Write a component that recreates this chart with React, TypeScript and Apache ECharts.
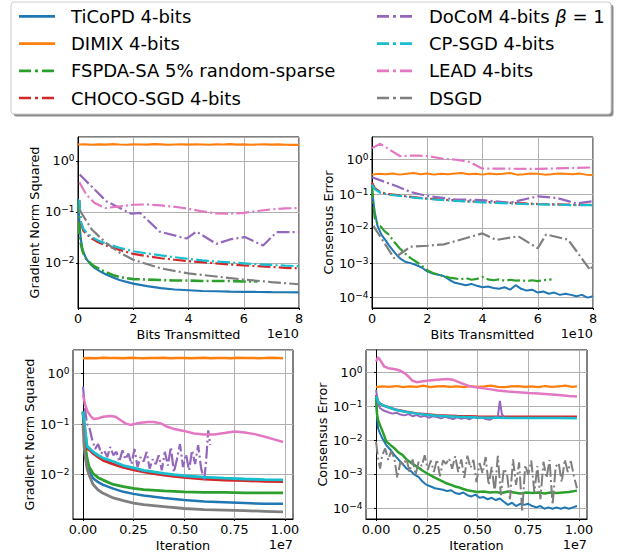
import React, { useEffect, useRef } from 'react';
import * as echarts from 'echarts';

// ---------------- data ----------------
const methodNames = ['TiCoPD 4-bits', 'DIMIX 4-bits', 'FSPDA-SA 5% random-sparse', 'CHOCO-SGD 4-bits', 'DoCoM 4-bits β = 1', 'CP-SGD 4-bits', 'LEAD 4-bits', 'DSGD'];
const methodColors = ['#1f77b4', '#ff7f0e', '#2ca02c', '#d62728', '#9467bd', '#17becf', '#e377c2', '#7f7f7f'];
const methodDashed = [false, false, true, true, true, true, true, true];

const bitsTicks = [0, 2, 4, 6, 8];
const iterTicks = [0, 0.25, 0.5, 0.75, 1];

// Top-left: gradient norm squared vs bits (x in 1e10)
const bitsGrid = [0, 0.25, 0.5, 0.75, 1, 1.25, 1.5, 1.75, 2, 2.25, 2.5, 2.75, 3, 3.25, 3.5, 3.75, 4, 4.25, 4.5, 4.75, 5, 5.25, 5.5, 5.75, 6, 6.25, 6.5, 6.75, 7, 7.25, 7.5, 7.75, 8];
const tlDimixY = [2.1, 2.12, 2.08, 2.11, 2.09, 2.13, 2.1, 2.08, 2.12, 2.1, 2.09, 2.13, 2.11, 2.08, 2.1, 2.12, 2.09, 2.11, 2.1, 2.08, 2.12, 2.1, 2.13, 2.09, 2.11, 2.08, 2.1, 2.12, 2.09, 2.11, 2.08, 2.07, 2.06];
const tlBlueX = [0, 0.05, 0.1, 0.15, 0.2, 0.3, 0.4, 0.5, 0.6, 0.8, 1, 1.25, 1.5, 2, 2.5, 3, 3.5, 4, 4.5, 5, 5.5, 6, 6.5, 7, 7.5, 8];
const tlBlueY = [0.18, 0.06, 0.03, 0.02, 0.016, 0.012, 0.0102, 0.0089, 0.008, 0.0068, 0.006, 0.0052, 0.0046, 0.0039, 0.0035, 0.0032, 0.003, 0.0029, 0.0028, 0.00277, 0.00272, 0.0027, 0.00268, 0.00266, 0.00265, 0.00264];
const tlGreenX = [0.02, 0.05, 0.1, 0.15, 0.2, 0.3, 0.4, 0.5, 0.6, 0.8, 1, 1.25, 1.5, 1.75, 2, 2.5, 3, 3.5, 4, 4.5, 5, 5.5, 6, 6.5];
const tlGreenY = [0.17, 0.035, 0.024, 0.018, 0.015, 0.012, 0.0105, 0.0093, 0.0085, 0.0074, 0.0066, 0.0058, 0.0053, 0.005, 0.0048, 0.0047, 0.0046, 0.0045, 0.0045, 0.0044, 0.0044, 0.0044, 0.0043, 0.0043];
const tlRedX = [0.05, 0.1, 0.2, 0.3, 0.5, 0.75, 1, 1.5, 2, 2.5, 3, 3.5, 4, 4.5, 5, 5.5, 6, 6.5, 7, 7.5, 8];
const tlRedY = [0.17, 0.06, 0.042, 0.037, 0.03, 0.025, 0.022, 0.018, 0.015, 0.0135, 0.0123, 0.0115, 0.0108, 0.0103, 0.0098, 0.0093, 0.0089, 0.0086, 0.0083, 0.008, 0.0078];
const tlCyanY = [0.17, 0.065, 0.046, 0.04, 0.032, 0.027, 0.024, 0.0198, 0.0169, 0.0153, 0.014, 0.0129, 0.012, 0.0112, 0.0106, 0.0102, 0.0098, 0.0094, 0.0091, 0.0088, 0.0086];
const tlPurpleX = [0.06, 1.03, 1.33, 1.93, 2.24, 2.96, 3.93, 4.29, 5.01, 5.5, 6.04, 6.7, 7.19, 8];
const tlPurpleY = [0.54, 0.161, 0.134, 0.092, 0.096, 0.041, 0.03, 0.041, 0.0236, 0.0288, 0.032, 0.0219, 0.04, 0.04];
const tlPinkX = [0.05, 0.3, 0.6, 1, 1.5, 2, 2.5, 3, 3.5, 4, 4.5, 5, 5.5, 6, 6.5, 7, 7.5, 8];
const tlPinkY = [0.38, 0.22, 0.15, 0.119, 0.128, 0.138, 0.14, 0.134, 0.126, 0.115, 0.102, 0.093, 0.092, 0.096, 0.104, 0.112, 0.117, 0.119];
const tlGrayX = [0.05, 0.5, 1, 1.5, 2, 3, 4, 5, 6, 7, 8];
const tlGrayY = [0.11, 0.045, 0.025, 0.016, 0.0115, 0.0078, 0.0062, 0.0054, 0.0047, 0.0042, 0.0038];

// Top-right: consensus error vs bits (x in 1e10)
const trDimixY = [0.37, 0.39, 0.38, 0.4, 0.37, 0.39, 0.41, 0.38, 0.4, 0.37, 0.39, 0.38, 0.4, 0.41, 0.38, 0.39, 0.37, 0.4, 0.38, 0.39, 0.41, 0.37, 0.38, 0.4, 0.39, 0.37, 0.38, 0.4, 0.39, 0.38, 0.4, 0.37, 0.36];
const trBlueX = [0, 0.05, 0.1, 0.2, 0.35, 0.5, 0.6, 0.75, 0.9, 1.05, 1.2, 1.4, 1.6, 1.8, 2, 2.2, 2.4, 2.6, 2.8, 3, 3.2, 3.4, 3.6, 3.8, 4, 4.2, 4.4, 4.6, 4.8, 5, 5.2, 5.4, 5.6, 5.8, 6, 6.2, 6.4, 6.6, 6.8, 7, 7.2, 7.4, 7.6, 7.8, 8];
const trBlueY = [0.15, 0.06, 0.03, 0.012, 0.0065, 0.0045, 0.0034, 0.0024, 0.0017, 0.0013, 0.0011, 0.001, 0.00088, 0.00075, 0.00058, 0.0005, 0.00046, 0.00042, 0.00033, 0.00027, 0.00025, 0.00023, 0.00025, 0.00022, 0.0002, 0.00021, 0.00019, 0.00018, 0.0002, 0.00017, 0.00023, 0.00018, 0.00016, 0.00017, 0.00014, 0.00015, 0.00013, 0.00014, 0.00012, 0.00013, 0.00012, 0.00011, 0.00012, 0.0001, 0.00011];
const trGreenX = [0, 0.05, 0.1, 0.2, 0.3, 0.45, 0.6, 0.8, 1, 1.2, 1.4, 1.6, 1.8, 2, 2.2, 2.4, 2.6, 2.8, 3, 3.2, 3.4, 3.6, 3.8, 4, 4.2, 4.4, 4.6, 4.8, 5, 5.2, 5.4, 5.6, 5.8, 6, 6.2, 6.5];
const trGreenY = [0.18, 0.05, 0.02, 0.014, 0.012, 0.0085, 0.0068, 0.0042, 0.0027, 0.0019, 0.0014, 0.0011, 0.00085, 0.00062, 0.00052, 0.00047, 0.00042, 0.00038, 0.00036, 0.00034, 0.00037, 0.00033, 0.00035, 0.0004, 0.00034, 0.00032, 0.00034, 0.00031, 0.00033, 0.00031, 0.00032, 0.0003, 0.00032, 0.0003, 0.00032, 0.00034];
const trRedX = [0, 0.1, 0.3, 0.6, 1, 1.5, 2, 2.5, 3, 3.5, 4, 4.5, 5, 5.5, 6, 6.5, 7, 7.5, 8];
const trRedY = [0.22, 0.15, 0.115, 0.1, 0.092, 0.082, 0.075, 0.07, 0.066, 0.062, 0.06, 0.058, 0.056, 0.054, 0.052, 0.051, 0.05, 0.049, 0.049];
const trCyanY = [0.19, 0.14, 0.11, 0.097, 0.09, 0.08, 0.073, 0.068, 0.064, 0.061, 0.058, 0.056, 0.054, 0.052, 0.051, 0.05, 0.049, 0.048, 0.048];
const trPurpleX = [0, 0.9, 1.4, 2, 3, 4, 5, 6, 6.7, 7.4, 8];
const trPurpleY = [0.31, 0.17, 0.116, 0.089, 0.071, 0.067, 0.057, 0.087, 0.078, 0.054, 0.063];
const trPinkX = [0, 0.3, 1.01, 1.62, 2, 2.58, 3.06, 3.54, 4, 5, 6, 7, 8];
const trPinkY = [2.17, 2.9, 1.28, 1.33, 1.28, 1.07, 1.0, 0.86, 0.55, 0.55, 0.54, 0.57, 0.6];
const trGrayX = [0.05, 0.8, 1.4, 2, 2.6, 4, 4.5, 5.3, 6, 6.3, 7.1, 7.9, 8];
const trGrayY = [0.012, 0.0014, 0.003, 0.0032, 0.0035, 0.0073, 0.0047, 0.006, 0.0027, 0.0068, 0.0048, 0.00063, 0.00088];

// Bottom-left: gradient norm squared vs iteration (x in 1e7)
const iterGrid = [0, 0.033, 0.066, 0.1, 0.133, 0.166, 0.2, 0.233, 0.266, 0.3, 0.333, 0.366, 0.4, 0.433, 0.466, 0.5, 0.533, 0.566, 0.6, 0.633, 0.666, 0.7, 0.733, 0.766, 0.8, 0.833, 0.866, 0.9, 0.933, 0.966, 0.99];
const blDimixY = [2.02, 2.05, 2.03, 2.06, 2.04, 2.05, 2.02, 2.06, 2.04, 2.03, 2.05, 2.04, 2.06, 2.03, 2.05, 2.04, 2.02, 2.05, 2.06, 2.03, 2.04, 2.05, 2.03, 2.06, 2.04, 2.05, 2.03, 2.04, 2.06, 2.04, 2.02];
const blGreenX = [0, 0.01, 0.02, 0.03, 0.05, 0.075, 0.1, 0.15, 0.2, 0.25, 0.3, 0.4, 0.5, 0.6, 0.7, 0.8, 0.9, 0.99];
const blBlueY = [0.176, 0.028, 0.0154, 0.0113, 0.0084, 0.007, 0.0062, 0.0052, 0.0045, 0.0041, 0.0038, 0.0034, 0.0031, 0.0029, 0.0028, 0.0027, 0.0026, 0.0026];
const blGreenY = [0.176, 0.04, 0.021, 0.0142, 0.0104, 0.0086, 0.0077, 0.0063, 0.0057, 0.0053, 0.005, 0.0047, 0.0045, 0.0044, 0.0044, 0.0043, 0.0043, 0.0043];
const blCyanX = [0, 0.01, 0.02, 0.035, 0.05, 0.075, 0.1, 0.15, 0.2, 0.25, 0.3, 0.35, 0.4, 0.45, 0.5, 0.6, 0.7, 0.8, 0.9, 0.99];
const blRedY = [0.17, 0.07, 0.033, 0.03, 0.026, 0.022, 0.019, 0.016, 0.0138, 0.0123, 0.0112, 0.0104, 0.0097, 0.0091, 0.0087, 0.0081, 0.0077, 0.0075, 0.0073, 0.0072];
const blCyanY = [0.176, 0.082, 0.036, 0.032, 0.028, 0.024, 0.021, 0.018, 0.015, 0.0135, 0.012, 0.0112, 0.0105, 0.0099, 0.0094, 0.0088, 0.0084, 0.0081, 0.0079, 0.0078];
const blPurpleX = [0, 0.01, 0.02, 0.03, 0.045, 0.06, 0.075, 0.09, 0.105, 0.12, 0.135, 0.15, 0.165, 0.18, 0.195, 0.21, 0.225, 0.24, 0.255, 0.27, 0.285, 0.3, 0.315, 0.33, 0.345, 0.36, 0.375, 0.39, 0.405, 0.42, 0.435, 0.45, 0.465, 0.48, 0.495, 0.51, 0.525, 0.54, 0.555, 0.57, 0.585, 0.6, 0.61, 0.62, 0.63];
const blPurpleY = [0.55, 0.2, 0.1, 0.09, 0.05, 0.032, 0.04, 0.026, 0.03, 0.022, 0.035, 0.024, 0.028, 0.018, 0.03, 0.02, 0.026, 0.016, 0.032, 0.014, 0.022, 0.018, 0.028, 0.013, 0.02, 0.016, 0.024, 0.012, 0.028, 0.015, 0.035, 0.011, 0.02, 0.04, 0.014, 0.025, 0.012, 0.03, 0.016, 0.038, 0.013, 0.0075, 0.02, 0.075, 0.038];
const blPinkX = [0, 0.011, 0.023, 0.04, 0.053, 0.078, 0.1, 0.136, 0.16, 0.185, 0.21, 0.235, 0.25, 0.285, 0.32, 0.35, 0.385, 0.417, 0.45, 0.5, 0.55, 0.6, 0.65, 0.7, 0.75, 0.8, 0.85, 0.9, 0.95, 0.99];
const blPinkY = [0.38, 0.24, 0.176, 0.14, 0.126, 0.13, 0.14, 0.144, 0.14, 0.12, 0.103, 0.096, 0.099, 0.106, 0.11, 0.11, 0.103, 0.088, 0.08, 0.073, 0.065, 0.062, 0.062, 0.066, 0.071, 0.068, 0.063, 0.056, 0.049, 0.044];
const blGrayX = [0, 0.005, 0.01, 0.02, 0.03, 0.05, 0.075, 0.1, 0.15, 0.2, 0.25, 0.3, 0.4, 0.5, 0.6, 0.7, 0.8, 0.9, 0.99];
const blGrayY = [0.103, 0.038, 0.024, 0.0132, 0.0097, 0.0063, 0.0049, 0.0042, 0.0034, 0.003, 0.0027, 0.0025, 0.0023, 0.0021, 0.002, 0.00195, 0.0019, 0.00185, 0.0018];

// Bottom-right: consensus error vs iteration (x in 1e7)
const brDimixY = [0.37, 0.39, 0.38, 0.4, 0.37, 0.39, 0.38, 0.41, 0.37, 0.39, 0.4, 0.38, 0.39, 0.37, 0.4, 0.38, 0.39, 0.41, 0.38, 0.37, 0.39, 0.4, 0.38, 0.39, 0.37, 0.4, 0.38, 0.39, 0.41, 0.38, 0.39];
const brBlueX = [0, 0.005, 0.01, 0.02, 0.03, 0.05, 0.07, 0.09, 0.11, 0.13, 0.15, 0.17, 0.19, 0.21, 0.23, 0.25, 0.27, 0.29, 0.31, 0.33, 0.35, 0.37, 0.39, 0.41, 0.43, 0.45, 0.47, 0.49, 0.51, 0.53, 0.55, 0.57, 0.59, 0.61, 0.63, 0.65, 0.67, 0.69, 0.71, 0.73, 0.75, 0.77, 0.79, 0.81, 0.83, 0.85, 0.87, 0.89, 0.91, 0.93, 0.95, 0.97, 0.99];
const brBlueY = [0.2, 0.05, 0.023, 0.016, 0.012, 0.0074, 0.0055, 0.0038, 0.0028, 0.0021, 0.0015, 0.0013, 0.001, 0.00085, 0.00062, 0.0005, 0.00045, 0.0004, 0.00038, 0.00036, 0.00033, 0.00035, 0.00029, 0.00027, 0.0003, 0.00025, 0.00023, 0.00026, 0.00021, 0.00022, 0.00019, 0.00021, 0.00018, 0.0002, 0.00016, 0.00013, 0.00015, 0.00012, 0.00014, 0.00013, 0.00014, 0.00012, 0.00011, 0.00012, 0.0001, 0.00011, 0.0001, 0.00011, 0.0001, 0.00011, 0.0001, 0.00011, 0.00012];
const brGreenX = [0, 0.005, 0.01, 0.02, 0.03, 0.04, 0.05, 0.07, 0.09, 0.11, 0.13, 0.15, 0.17, 0.19, 0.21, 0.23, 0.25, 0.27, 0.29, 0.31, 0.33, 0.35, 0.37, 0.39, 0.41, 0.43, 0.45, 0.47, 0.5, 0.53, 0.56, 0.59, 0.62, 0.65, 0.68, 0.71, 0.74, 0.77, 0.8, 0.83, 0.86, 0.89, 0.92, 0.95, 0.99];
const brGreenY = [0.18, 0.06, 0.04, 0.028, 0.02, 0.014, 0.0095, 0.0075, 0.006, 0.0045, 0.0038, 0.0028, 0.0023, 0.0019, 0.0016, 0.0013, 0.0011, 0.00095, 0.00082, 0.00072, 0.00063, 0.00055, 0.0005, 0.00045, 0.00042, 0.00038, 0.00035, 0.00033, 0.00031, 0.00032, 0.0003, 0.00031, 0.00029, 0.00032, 0.0003, 0.00028, 0.0003, 0.00029, 0.0003, 0.00028, 0.0003, 0.00029, 0.0003, 0.00031, 0.00034];
const brRedX = [0, 0.01, 0.02, 0.05, 0.1, 0.15, 0.2, 0.25, 0.3, 0.4, 0.5, 0.6, 0.7, 0.8, 0.9, 0.99];
const brRedY = [0.22, 0.14, 0.12, 0.1, 0.08, 0.07, 0.063, 0.059, 0.056, 0.053, 0.051, 0.05, 0.05, 0.05, 0.05, 0.05];
const brCyanY = [0.2, 0.14, 0.12, 0.1, 0.079, 0.069, 0.062, 0.057, 0.054, 0.05, 0.048, 0.047, 0.046, 0.046, 0.046, 0.045];
const brPurpleX = [0, 0.01, 0.02, 0.04, 0.06, 0.08, 0.1, 0.12, 0.14, 0.16, 0.18, 0.2, 0.22, 0.24, 0.26, 0.28, 0.3, 0.32, 0.34, 0.36, 0.38, 0.4, 0.42, 0.44, 0.46, 0.48, 0.5, 0.52, 0.54, 0.56, 0.58, 0.6, 0.61, 0.62, 0.63];
const brPurpleY = [0.31, 0.125, 0.089, 0.075, 0.068, 0.062, 0.066, 0.058, 0.055, 0.06, 0.052, 0.056, 0.05, 0.054, 0.047, 0.052, 0.049, 0.045, 0.05, 0.046, 0.043, 0.048, 0.044, 0.047, 0.042, 0.05, 0.045, 0.048, 0.043, 0.041, 0.047, 0.05, 0.146, 0.06, 0.05];
const brPinkX = [0, 0.01, 0.02, 0.04, 0.06, 0.08, 0.1, 0.12, 0.14, 0.16, 0.18, 0.2, 0.25, 0.3, 0.35, 0.38, 0.42, 0.46, 0.5, 0.55, 0.6, 0.65, 0.7, 0.75, 0.8, 0.85, 0.9, 0.95, 0.99];
const brPinkY = [2.1, 2.77, 2.36, 1.5, 1.34, 1.28, 1.22, 1.12, 0.955, 0.76, 0.57, 0.52, 0.57, 0.61, 0.64, 0.61, 0.485, 0.395, 0.36, 0.33, 0.295, 0.275, 0.263, 0.25, 0.24, 0.23, 0.22, 0.205, 0.196];
const brGrayX = [0, 0.01, 0.02, 0.03, 0.045, 0.06, 0.075, 0.09, 0.105, 0.12, 0.135, 0.15, 0.165, 0.18, 0.195, 0.21, 0.225, 0.24, 0.255, 0.27, 0.285, 0.3, 0.315, 0.33, 0.345, 0.36, 0.375, 0.39, 0.405, 0.42, 0.435, 0.45, 0.465, 0.48, 0.495, 0.51, 0.525, 0.54, 0.555, 0.57, 0.585, 0.6, 0.615, 0.63, 0.645, 0.66, 0.675, 0.69, 0.705, 0.72, 0.735, 0.75, 0.765, 0.78, 0.795, 0.81, 0.825, 0.84, 0.855, 0.87, 0.885, 0.9, 0.915, 0.93, 0.945, 0.96, 0.975, 0.99];
const brGrayY = [0.0093, 0.003, 0.0015, 0.0037, 0.0059, 0.0027, 0.005, 0.003, 0.0008, 0.0024, 0.0019, 0.003, 0.0012, 0.0028, 0.001, 0.0024, 0.0018, 0.0037, 0.0014, 0.0026, 0.0012, 0.0028, 0.0009, 0.0026, 0.0021, 0.003, 0.0015, 0.0035, 0.0012, 0.0028, 0.0008, 0.0036, 0.0016, 0.0027, 0.0006, 0.0022, 0.0011, 0.0033, 0.0005, 0.0017, 0.0003, 0.0036, 0.00025, 0.0015, 0.0011, 0.00019, 0.0028, 0.0005, 0.0023, 0.00008, 0.0019, 0.001, 0.0026, 0.0003, 0.0018, 0.00019, 0.0024, 0.0008, 0.0027, 0.00013, 0.0017, 0.0022, 0.0006, 0.0028, 0.0012, 0.0025, 0.0009, 0.0004];

// ---------------- helpers ----------------
const FONT = 'DejaVu Sans';
const DASHDOT = [12.8, 3.2, 2, 3.2];

function pairs(xs: number[], ys: number[]) {
  const n = Math.min(xs.length, ys.length);
  const out: number[][] = [];
  for (let i = 0; i < n; i++) out.push([xs[i], ys[i]]);
  return out;
}

function supLabel(v: number) {
  const l = Math.log10(v);
  const e = Math.round(l);
  if (Math.abs(l - e) > 0.01) return '';
  return '{b|10}{s|' + (e < 0 ? '\u2212' + -e : String(e)) + '}';
}

function logAxis(gi: number, min: number, max: number, name: string, gap: number) {
  return {
    type: 'log', logBase: 10, gridIndex: gi, min, max,
    name, nameLocation: 'middle', nameGap: gap,
    nameTextStyle: { fontFamily: FONT, fontSize: 12.8, color: '#000' },
    axisLine: { show: true, lineStyle: { color: '#000', width: 1 } },
    axisTick: { show: true, length: 2, lineStyle: { color: '#000', width: 1 } },
    minorTick: { show: false },
    axisLabel: {
      margin: 3.5, showMinLabel: false, showMaxLabel: false,
      formatter: supLabel,
      rich: {
        b: { fontFamily: FONT, fontSize: 12.8, color: '#000', lineHeight: 14, verticalAlign: 'middle' },
        s: { fontFamily: FONT, fontSize: 9, color: '#000', lineHeight: 10, verticalAlign: 'top', padding: [0, 0, 9, 0] },
      },
    },
    splitLine: { show: true, lineStyle: { color: '#b0b0b0', width: 1 } },
  };
}

function valAxis(gi: number, min: number, max: number, ticks: number[], name: string, digits: number) {
  return {
    type: 'value', gridIndex: gi, min, max,
    name, nameLocation: 'middle', nameGap: 19.5,
    nameTextStyle: { fontFamily: FONT, fontSize: 12.8, color: '#000' },
    axisLine: { show: true, onZero: false, lineStyle: { color: '#000', width: 1 } },
    axisTick: { show: true, length: 2, customValues: ticks, lineStyle: { color: '#000', width: 1 } },
    axisLabel: {
      margin: 4, customValues: ticks, fontFamily: FONT, fontSize: 12.8, color: '#000',
      formatter: (v: number) => v.toFixed(digits),
    },
    splitLine: { show: true, lineStyle: { color: '#b0b0b0', width: 1 } },
  };
}

function series(idx: number, gi: number, xs: number[], ys: number[], dashed: boolean, width: number) {
  return {
    type: 'line', name: methodNames[idx], xAxisIndex: gi, yAxisIndex: gi,
    data: pairs(xs, ys), showSymbol: false, symbol: 'none', silent: true,
    lineStyle: { color: methodColors[idx], width, type: dashed ? DASHDOT : 'solid' },
    itemStyle: { color: methodColors[idx] },
    z: 2 + idx,
  };
}

const legendColLineX = [19, 377];
const legendColTextX = [71, 429];
const legendRowY = [16.3, 43.6, 70.8, 98];

function legendGraphics() {
  const els: any[] = [
    { type: 'rect', shape: { x: 13.5, y: 4.5, width: 600, height: 112, r: 3 }, style: { fill: 'rgba(0,0,0,0.45)' }, z: 100 },
    { type: 'rect', shape: { x: 11, y: 2, width: 600, height: 112, r: 3 }, style: { fill: '#ffffff', stroke: '#cccccc', lineWidth: 1 }, z: 101 },
  ];
  methodNames.forEach((nm, i) => {
    const col = i < 4 ? 0 : 1;
    const row = i % 4;
    const y = legendRowY[row];
    els.push({
      type: 'line', z: 102,
      shape: { x1: legendColLineX[col], y1: y, x2: legendColLineX[col] + 36, y2: y },
      style: { stroke: methodColors[i], lineWidth: 2.7, lineDash: methodDashed[i] ? [12, 4, 3, 4] : null },
    });
    const isBeta = nm.indexOf('β') >= 0;
    const parts = nm.split('β');
    els.push({
      type: 'text', z: 102, x: legendColTextX[col], y,
      style: {
        text: isBeta ? '{n|' + parts[0] + '}{i|β}{n|' + parts[1] + '}' : nm,
        fontFamily: FONT, fontSize: 18, fill: '#000', verticalAlign: 'middle', align: 'left',
        rich: {
          n: { fontFamily: FONT, fontSize: 18, fill: '#000' },
          i: { fontFamily: FONT, fontSize: 18, fontStyle: 'italic', fill: '#000' },
        },
      },
    });
  });
  return els;
}

function offsetText(text: string, x: number, y: number) {
  return { type: 'text', x, y, z: 50, style: { text, fontFamily: FONT, fontSize: 12.8, fill: '#000', align: 'right', verticalAlign: 'middle' } };
}

const App: React.FC = () => {
  const ref = useRef<HTMLDivElement>(null);
  useEffect(() => {
    document.body.style.margin = '0';
    if (!ref.current) return;
    const chart = echarts.init(ref.current, null, { renderer: 'svg' });
    const gridBase = { show: true, borderColor: '#000', borderWidth: 1, backgroundColor: 'transparent', containLabel: false };
    const option: any = {
      animation: false,
      textStyle: { fontFamily: FONT },
      grid: [
        { ...gridBase, left: 78, top: 137, width: 221, height: 171 },
        { ...gridBase, left: 372, top: 137, width: 221, height: 171 },
        { ...gridBase, left: 73, top: 350, width: 220, height: 169 },
        { ...gridBase, left: 366, top: 350, width: 221, height: 169 },
      ],
      xAxis: [
        { ...valAxis(0, 0, 8, bitsTicks, 'Bits Transmitted', 0), interval: 2 },
        { ...valAxis(1, 0, 8, bitsTicks, 'Bits Transmitted', 0), interval: 2 },
        valAxis(2, -0.0495, 1.0395, iterTicks, 'Iteration', 2),
        valAxis(3, -0.0495, 1.0395, iterTicks, 'Iteration', 2),
      ],
      yAxis: [
        logAxis(0, 0.0013, 2.95, 'Gradient Norm Squared', 37),
        logAxis(1, 5.0e-5, 4.57, 'Consensus Error', 37.5),
        logAxis(2, 0.0013, 2.95, 'Gradient Norm Squared', 37),
        logAxis(3, 5.0e-5, 4.57, 'Consensus Error', 35),
      ],
      series: [
        series(0, 0, tlBlueX, tlBlueY, false, 2.2),
        series(1, 0, bitsGrid, tlDimixY, false, 2.2),
        series(2, 0, tlGreenX, tlGreenY, true, 2.6),
        series(3, 0, tlRedX, tlRedY, true, 2.2),
        series(4, 0, tlPurpleX, tlPurpleY, true, 2.2),
        series(5, 0, tlRedX, tlCyanY, true, 2.2),
        series(6, 0, tlPinkX, tlPinkY, true, 2.2),
        series(7, 0, tlGrayX, tlGrayY, true, 2.2),

        series(0, 1, trBlueX, trBlueY, false, 2),
        series(1, 1, bitsGrid, trDimixY, false, 2),
        series(2, 1, trGreenX, trGreenY, true, 2.2),
        series(3, 1, trRedX, trRedY, true, 2.2),
        series(4, 1, trPurpleX, trPurpleY, true, 2.2),
        series(5, 1, trRedX, trCyanY, true, 2.2),
        series(6, 1, trPinkX, trPinkY, true, 2.2),
        series(7, 1, trGrayX, trGrayY, true, 2.2),

        series(0, 2, blGreenX, blBlueY, false, 2.5),
        series(1, 2, iterGrid, blDimixY, false, 2.5),
        series(2, 2, blGreenX, blGreenY, false, 2.8),
        series(3, 2, blCyanX, blRedY, false, 2.8),
        series(4, 2, blPurpleX, blPurpleY, true, 2.2),
        series(5, 2, blCyanX, blCyanY, false, 2.8),
        series(6, 2, blPinkX, blPinkY, false, 2.5),
        series(7, 2, blGrayX, blGrayY, false, 2.8),

        series(0, 3, brBlueX, brBlueY, false, 2),
        series(1, 3, iterGrid, brDimixY, false, 2.2),
        series(2, 3, brGreenX, brGreenY, false, 2.5),
        series(3, 3, brRedX, brRedY, false, 2.5),
        series(4, 3, brPurpleX, brPurpleY, false, 2),
        series(5, 3, brRedX, brCyanY, false, 2.5),
        series(6, 3, brPinkX, brPinkY, false, 2.5),
        series(7, 3, brGrayX, brGrayY, true, 2),
      ],
      graphic: [
        ...legendGraphics(),
        offsetText('1e10', 299, 333.5),
        offsetText('1e10', 593, 333.5),
        offsetText('1e7', 293, 544.5),
        offsetText('1e7', 587, 544.5),
      ],
    };
    chart.setOption(option);
    return () => chart.dispose();
  }, []);
  return <div ref={ref} style={{ width: 625, height: 557 }} />;
};

export default App;
